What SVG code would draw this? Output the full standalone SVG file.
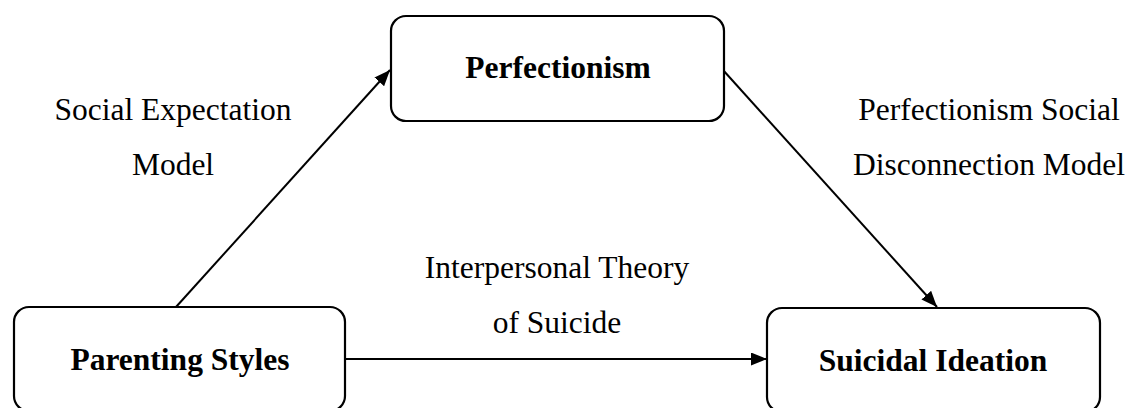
<svg xmlns="http://www.w3.org/2000/svg" width="1134" height="408" viewBox="0 0 1134 408">
<style>
.box{fill:#fff;stroke:#000;stroke-width:2.2}
text{font-family:'Liberation Serif',serif;fill:#000;text-anchor:middle;font-size:31.5px}
.nt{font-weight:bold}
.edge{stroke:#000;stroke-width:2;fill:none;marker-end:url(#ah)}
</style>
<defs>
<marker id="ah" markerUnits="userSpaceOnUse" markerWidth="17" markerHeight="13" refX="16" refY="6.5" orient="auto">
<path d="M0,0 L16,6.5 L0,13 z" fill="#000"/>
</marker>
</defs>
<rect width="1134" height="408" fill="#fff"/>
<g id="connectors">
<line class="edge" x1="176" y1="307" x2="390" y2="70"/>
<line class="edge" x1="723" y1="70" x2="937" y2="307"/>
<line class="edge" x1="345" y1="359" x2="767" y2="359"/>
</g>
<g id="labels">
<text class="lt" x="173" y="120">Social Expectation</text>
<text class="lt" x="173" y="175">Model</text>
<text class="lt" x="989" y="120">Perfectionism Social</text>
<text class="lt" x="989" y="175">Disconnection Model</text>
<text class="lt" x="557" y="278">Interpersonal Theory</text>
<text class="lt" x="557" y="333">of Suicide</text>
</g>
<g id="perfectionism">
<rect class="box" x="391" y="16" width="333" height="105" rx="15"/>
<text class="nt" x="558" y="78">Perfectionism</text>
</g>
<g id="parenting">
<rect class="box" x="14" y="307" width="331" height="104" rx="15"/>
<text class="nt" x="180" y="370">Parenting Styles</text>
</g>
<g id="suicidal">
<rect class="box" x="767" y="308" width="333" height="104" rx="15"/>
<text class="nt" x="933" y="371">Suicidal Ideation</text>
</g>
</svg>
